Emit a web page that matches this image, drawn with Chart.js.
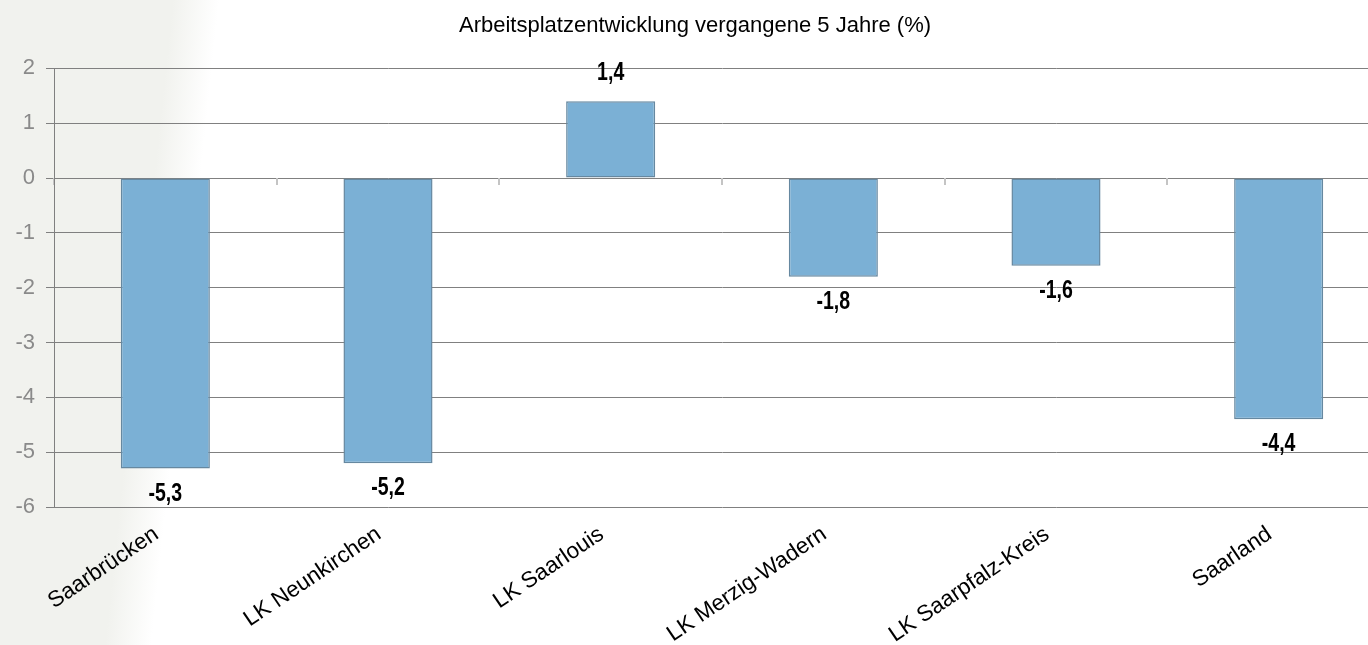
<!DOCTYPE html>
<html lang="de">
<head>
<meta charset="utf-8">
<title>Arbeitsplatzentwicklung</title>
<script src="https://cdn.jsdelivr.net/npm/chart.js@4/dist/chart.umd.min.js"></script>
<style>
    html, body {
        margin: 0;
        padding: 0;
        overflow: hidden;
        width: 1368px;
        height: 645px;
        background: linear-gradient(96deg, #f1f2ee 0px, #f1f2ee 172px, #ffffff 218px);
    }
    #wrap {
        position: relative;
        width: 1392px;
        height: 645px;
    }
</style>
</head>
<body>
<div id="wrap"><canvas id="jobChart"></canvas></div>
<script>
const regions = ['Saarbrücken', 'LK Neunkirchen', 'LK Saarlouis', 'LK Merzig-Wadern', 'LK Saarpfalz-Kreis', 'Saarland'];
const changePct = [-5.3, -5.2, 1.4, -1.8, -1.6, -4.4];
const yTicks = [2, 1, 0, -1, -2, -3, -4, -5, -6];

// Beschriftung der Balken (fett, schmal)
const valueLabels = {
    id: 'valueLabels',
    afterDatasetsDraw(chart) {
        const { ctx } = chart;
        const meta = chart.getDatasetMeta(0);
        ctx.save();
        ctx.font = "bold 25px 'Liberation Sans', Arial, sans-serif";
        ctx.fillStyle = '#000';
        ctx.textAlign = 'center';
        ctx.textBaseline = 'middle';
        meta.data.forEach((bar, i) => {
            const v = changePct[i];
            const y = v >= 0 ? bar.y - 28 : bar.y + 25;
            ctx.save();
            ctx.translate(bar.x, y);
            ctx.scale(0.78, 1);
            ctx.fillText(v.toFixed(1).replace('.', ','), 0, 0);
            ctx.restore();
        });
        ctx.restore();
    }
};

document.addEventListener('DOMContentLoaded', () => {
    const el = document.getElementById('jobChart');

    new Chart(el, {
        type: 'bar',
        data: {
            labels: regions,
            datasets: [{
                data: changePct,
                backgroundColor: '#7bb0d5',
                borderColor: '#6688a0',
                borderWidth: 1.5,
                borderSkipped: false,
                barPercentage: 0.4,
                categoryPercentage: 1
            }]
        },
        options: {
            responsive: true,
            maintainAspectRatio: false,
            animation: false,
            layout: { padding: { left: 0, right: 2, top: 0, bottom: 0 } },
            plugins: {
                legend: { display: false },
                tooltip: { enabled: false },
                title: {
                    display: true,
                    text: 'Arbeitsplatzentwicklung vergangene 5 Jahre (%)',
                    color: '#000',
                    font: { family: "'Liberation Sans', Arial, sans-serif", size: 22, weight: 'normal', lineHeight: 1.2 },
                    padding: { top: 13, bottom: 29 }
                }
            },
            scales: {
                y: {
                    min: -6,
                    max: 2,
                    afterBuildTicks: (scale) => {
                        scale.ticks = yTicks.map(v => ({ value: v }));
                    },
                    afterFit: (scale) => { scale.width = 54; },
                    ticks: {
                        color: '#8a8a8a',
                        padding: 11,
                        font: { family: "'Liberation Sans', Arial, sans-serif", size: 22 }
                    },
                    grid: {
                        color: '#808080',
                        lineWidth: 1,
                        tickLength: 8
                    },
                    border: { display: true, color: '#808080', width: 1 }
                },
                x: {
                    offset: true,
                    afterFit: (scale) => { scale.height = 138; },
                    ticks: {
                        color: '#000',
                        minRotation: 34,
                        maxRotation: 34,
                        autoSkip: false,
                        padding: 14,
                        labelOffset: -9,
                        font: { family: "'Liberation Sans', Arial, sans-serif", size: 22.5 }
                    },
                    grid: { display: false, drawTicks: false },
                    border: { display: false }
                },
                x2: {
                    type: 'category',
                    position: { y: 0 },
                    offset: true,
                    ticks: { display: false },
                    grid: {
                        offset: true,
                        drawOnChartArea: false,
                        drawTicks: true,
                        tickLength: 7,
                        color: '#c4c4c4',
                        lineWidth: 2
                    },
                    border: { display: false }
                }
            }
        },
        plugins: [valueLabels]
    });
});
</script>
</body>
</html>
